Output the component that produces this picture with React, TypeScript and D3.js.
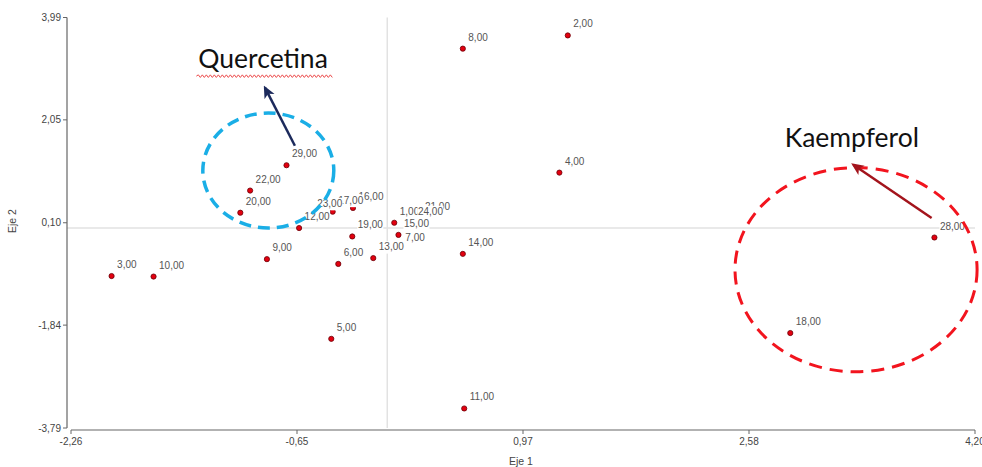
import { useEffect } from 'react';
import * as d3 from 'd3';

// case ids in drawing order (later labels sit on top of earlier ones)
const caseIds = [1, 2, 3, 4, 5, 6, 7, 8, 9, 10, 11, 13, 14, 16, 17, 18, 19, 20, 21, 22, 23, 12, 24, 15, 28, 29];
const eje1 = [0.05, 1.29, -1.97, 1.23, -0.40, -0.35, 0.09, 0.54, -0.86, -1.67, 0.55, -0.10, 0.54, -0.245, -0.39, 2.88, -0.25, -1.05, 0.23, -0.98, -0.54, -0.63, 0.18, 0.08, 3.91, -0.72];
const eje2 = [0.10, 3.65, -0.91, 1.05, -2.10, -0.68, -0.40, 3.40, -0.59, -0.92, -3.42, -0.57, -0.49, 0.38, 0.31, -1.99, -0.16, 0.29, 0.19, 0.71, 0.25, 0.00, 0.10, -0.13, -0.18, 1.19];

const xTickValues = [-2.26, -0.645, 0.97, 2.585, 4.2];
const xTickLabels = ['-2,26', '-0,65', '0,97', '2,58', '4,20'];
const yTickValues = [-3.79, -1.84, 0.1, 2.05, 3.99];
const yTickLabels = ['-3,79', '-1,84', '0,10', '2,05', '3,99'];

const groupNames = ['Quercetina', 'Kaempferol'];

const W = 982;
const H = 467;

const x = d3.scaleLinear([-2.26, 4.2], [71, 975]);
const y = d3.scaleLinear([-3.79, 3.99], [428, 17.5]);

const fmt = (n: number) => n.toFixed(2).replace('.', ',');
const labelWidth = (s: string) =>
  s.split('').reduce((w, c) => w + (c === ',' ? 2.78 : 5.56), 0);

// annotations, in data units
const ANN = {
  quer: { cx: -0.85, cy: 1.09, rx: 0.468, ry: 1.09, text: [-1.35, 3.03], tail: [-0.66, 1.56], tip: [-0.874, 2.66] },
  kaem: { cx: 3.35, cy: -0.79, rx: 0.865, ry: 1.935, text: [2.84, 1.54], tail: [3.89, 0.19], tip: [3.33, 1.2] },
};

function wavy(x0: number, x1: number, yy: number) {
  let d = `M${x0},${yy}`;
  let up = true;
  for (let xx = x0 + 2; xx <= x1; xx += 2) {
    d += ` L${xx},${yy + (up ? -1.3 : 1.3)}`;
    up = !up;
  }
  return d;
}

export default function App() {
  useEffect(() => {
    document.body.style.margin = '0';
  }, []);

  const font = '"Liberation Sans", Arial, sans-serif';
  const q = ANN.quer;
  const k = ANN.kaem;
  const qx = x(q.text[0]);
  const qy = y(q.text[1]);

  return (
    <svg width={W} height={H} style={{ display: 'block', background: '#fff' }} fontFamily={font}>
      <defs>
        <marker id="arrNavy" viewBox="0 0 10 10" refX="8" refY="5" markerWidth="5" markerHeight="5" orient="auto" markerUnits="strokeWidth">
          <path d="M0,0.5 L10,5 L0,9.5 L2.5,5 z" fill="#1c2a5c" />
        </marker>
        <marker id="arrRed" viewBox="0 0 10 10" refX="8" refY="5" markerWidth="5" markerHeight="5" orient="auto" markerUnits="strokeWidth">
          <path d="M0,0.5 L10,5 L0,9.5 L2.5,5 z" fill="#a3141c" />
        </marker>
      </defs>

      {/* zero reference lines */}
      <line x1={x(0)} x2={x(0)} y1={y(3.99)} y2={y(-3.79)} stroke="#e2e2e2" strokeWidth={1.5} />
      <line x1={67} x2={x(4.2)} y1={y(0)} y2={y(0)} stroke="#e2e2e2" strokeWidth={1.5} />

      {/* y axis */}
      <g>
        <line x1={67} x2={67} y1={y(3.99)} y2={y(-3.79)} stroke="#666" strokeWidth={1.2} />
        {yTickValues.map((v, i) => (
          <g key={i}>
            <line x1={63} x2={67} y1={y(v)} y2={y(v)} stroke="#666" />
            <text x={61} y={y(v)} dy="0.35em" textAnchor="end" fontSize={10} fill="#444">
              {yTickLabels[i]}
            </text>
          </g>
        ))}
        <text transform={`translate(16,${221}) rotate(-90)`} textAnchor="middle" fontSize={10.5} fill="#444">
          Eje 2
        </text>
      </g>

      {/* x axis */}
      <g>
        <line x1={x(-2.26)} x2={x(4.2)} y1={430} y2={430} stroke="#666" strokeWidth={1.2} />
        {xTickValues.map((v, i) => (
          <g key={i}>
            <line x1={x(v)} x2={x(v)} y1={430} y2={434} stroke="#666" />
            <text x={x(v)} y={445} textAnchor="middle" fontSize={10} fill="#444">
              {xTickLabels[i]}
            </text>
          </g>
        ))}
        <text x={521} y={465} textAnchor="middle" fontSize={10.5} fill="#444">
          Eje 1
        </text>
      </g>

      {/* points */}
      <g>
        {caseIds.map((id, i) => (
          <circle key={id} cx={x(eje1[i])} cy={y(eje2[i])} r={2.6} fill="#e3000f" stroke="#6a0008" strokeWidth={0.8} />
        ))}
      </g>

      {/* point labels */}
      <g>
        {caseIds.map((id, i) => {
          const s = fmt(id);
          const lx = x(eje1[i]) + 5.5;
          const ly = y(eje2[i]) - 8;
          const w = labelWidth(s);
          return (
            <g key={id}>
              <rect x={lx - 0.5} y={ly - 9} width={w + 1} height={12.5} fill="#fff" />
              <text x={lx} y={ly} fontSize={10} fill="#555">
                {s}
              </text>
            </g>
          );
        })}
      </g>

      {/* Quercetina annotation */}
      <ellipse cx={x(q.cx)} cy={y(q.cy)} rx={x(q.cx + q.rx) - x(q.cx)} ry={y(q.cy) - y(q.cy + q.ry)}
        fill="none" stroke="#1aaee6" strokeWidth={3.5} strokeDasharray="12 7" />
      <line x1={x(q.tail[0])} y1={y(q.tail[1])} x2={x(q.tip[0])} y2={y(q.tip[1])}
        stroke="#1c2a5c" strokeWidth={2.5} markerEnd="url(#arrNavy)" />
      <text x={qx} y={qy} fontFamily="Lato, sans-serif" fontSize={26.5} fill="#111">
        {groupNames[0]}
      </text>
      <path d={wavy(qx - 2, qx + 134, qy + 8)} fill="none" stroke="#ec4b4b" strokeWidth={1} />

      {/* Kaempferol annotation */}
      <ellipse cx={x(k.cx)} cy={y(k.cy)} rx={x(k.cx + k.rx) - x(k.cx)} ry={y(k.cy) - y(k.cy + k.ry)}
        fill="none" stroke="#f2141e" strokeWidth={3} strokeDasharray="13 8" />
      <line x1={x(k.tail[0])} y1={y(k.tail[1])} x2={x(k.tip[0])} y2={y(k.tip[1])}
        stroke="#a3141c" strokeWidth={2.5} markerEnd="url(#arrRed)" />
      <text x={x(k.text[0])} y={y(k.text[1])} fontFamily="Lato, sans-serif" fontSize={26.5} fill="#111">
        {groupNames[1]}
      </text>
    </svg>
  );
}
